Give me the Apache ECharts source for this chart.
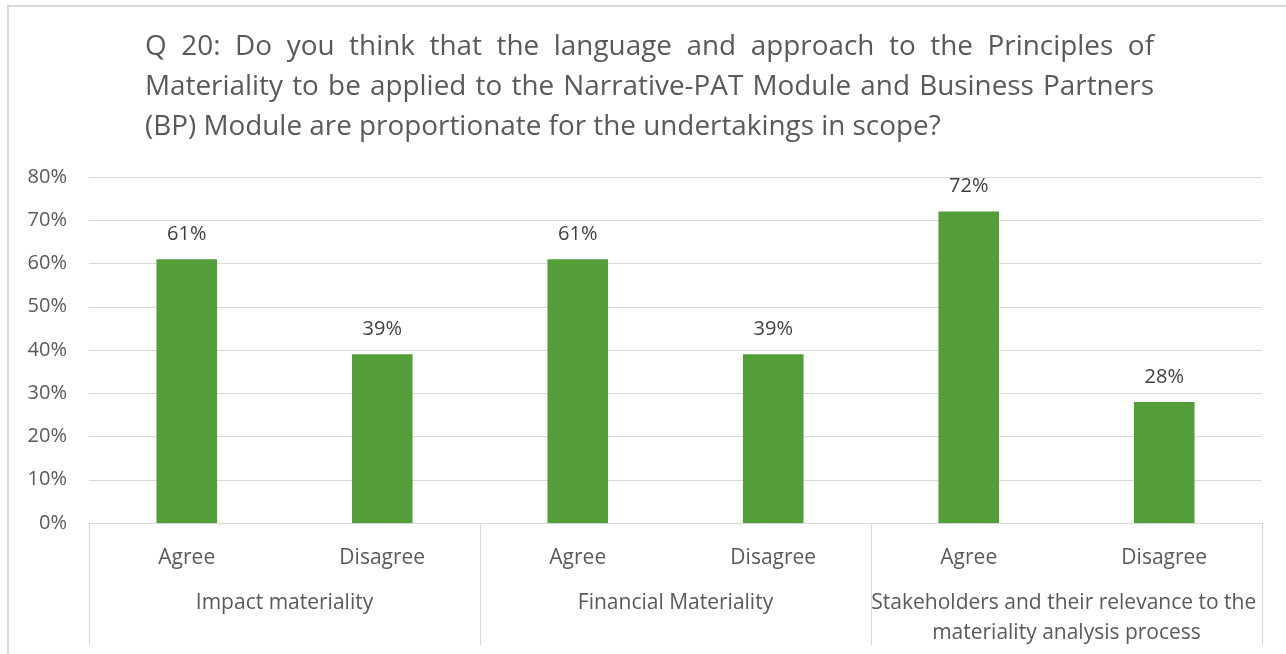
<!DOCTYPE html>
<html>
<head>
<meta charset="utf-8">
<script src="https://cdn.jsdelivr.net/npm/echarts@6/dist/echarts.min.js"></script>
<style>
  html, body { margin: 0; padding: 0; background: #ffffff; }
  #chart { width: 1286px; height: 654px; }
</style>
</head>
<body>
<div id="chart"></div>
<script>
// Survey question, split into the lines it is set in
const titleLines = [
  'Q 20: Do you think that the language and approach to the Principles of',
  'Materiality to be applied to the Narrative-PAT Module and Business Partners',
  '(BP) Module are proportionate for the undertakings in scope?'
];

// Outer category level (topics) and inner level (answers)
const topics = [
  'Impact materiality',
  'Financial Materiality',
  'Stakeholders and their relevance to the materiality analysis process'
];
const answers = ['Agree', 'Disagree', 'Agree', 'Disagree', 'Agree', 'Disagree'];

// Share of respondents, in percent
const shares = [61, 39, 61, 39, 72, 28];

// Value axis ticks
const yMin = 0;
const yMax = 80;
const yStep = 10;

const FONT = '"Open Sans", "Noto Sans", sans-serif';
const TEXT = '#595959';
const GRID_LINE = '#d9d9d9';
const BAR = '#549e39';

// Justified title: every line but the last is stretched to the full block width
const TITLE_X = 145;
const TITLE_RIGHT = 1154;
const LAST_LINE_WIDTH = 796;
const TITLE_Y = [47, 87, 127];

const measureCtx = document.createElement('canvas').getContext('2d');
function textWidth(str, size) {
  measureCtx.font = size + 'px ' + FONT;
  return measureCtx.measureText(str).width;
}
const titleSize = 100 * LAST_LINE_WIDTH / textWidth(titleLines[titleLines.length - 1], 100);

function titleWords(line, y, stretch) {
  const words = line.split(' ');
  const widths = words.map(w => textWidth(w, titleSize));
  const total = widths.reduce((a, b) => a + b, 0);
  const gap = stretch
    ? (TITLE_RIGHT - TITLE_X - total) / (words.length - 1)
    : textWidth(' ', titleSize);
  let x = TITLE_X;
  return words.map((w, i) => {
    const el = {
      type: 'text',
      x: x,
      y: y,
      silent: true,
      style: {
        text: w,
        fontSize: titleSize,
        fontFamily: FONT,
        fill: TEXT,
        align: 'left',
        verticalAlign: 'middle'
      }
    };
    x += widths[i] + gap;
    return el;
  });
}

const titleElements = [];
titleLines.forEach((line, i) => {
  titleElements.push(...titleWords(line, TITLE_Y[i], i < titleLines.length - 1));
});

const chart = echarts.init(document.getElementById('chart'), null, { renderer: 'canvas' });

chart.setOption({
  animation: false,
  backgroundColor: '#ffffff',
  textStyle: { fontFamily: FONT },
  grid: { left: 89, right: 24, top: 177, bottom: 131, containLabel: false },
  graphic: [
    {
      type: 'rect',
      z: -10,
      silent: true,
      shape: { x: 8, y: 6, width: 1400, height: 800 },
      style: { fill: 'none', stroke: GRID_LINE, lineWidth: 2 }
    },
    ...titleElements
  ],
  xAxis: [
    {
      type: 'category',
      data: answers,
      position: 'bottom',
      axisLine: { show: true, lineStyle: { color: GRID_LINE, width: 1 } },
      axisTick: { show: false },
      axisLabel: {
        interval: 0,
        margin: 25,
        fontSize: 21,
        lineHeight: 21,
        color: TEXT,
        fontFamily: FONT
      },
      splitLine: { show: false }
    },
    {
      type: 'category',
      data: topics,
      position: 'bottom',
      offset: 0,
      axisLine: { show: false },
      axisTick: {
        show: true,
        interval: 0,
        length: 122,
        lineStyle: { color: GRID_LINE, width: 1 }
      },
      axisLabel: {
        interval: 0,
        margin: 65,
        fontSize: 21,
        lineHeight: 30,
        width: 395,
        overflow: 'break',
        align: 'center',
        color: TEXT,
        fontFamily: FONT
      },
      splitLine: { show: false }
    }
  ],
  yAxis: {
    type: 'value',
    min: yMin,
    max: yMax,
    interval: yStep,
    axisLine: { show: false },
    axisTick: { show: false },
    axisLabel: {
      margin: 22,
      fontSize: 20,
      color: TEXT,
      fontFamily: FONT,
      formatter: '{value}%'
    },
    splitLine: { show: true, lineStyle: { color: GRID_LINE, width: 1 } }
  },
  series: [
    {
      type: 'bar',
      xAxisIndex: 0,
      data: shares,
      barWidth: '31%',
      itemStyle: { color: BAR },
      label: {
        show: true,
        position: 'top',
        distance: 15,
        formatter: '{c}%',
        fontSize: 20,
        lineHeight: 20,
        color: '#404040',
        fontFamily: FONT
      }
    }
  ]
});
</script>
</body>
</html>
